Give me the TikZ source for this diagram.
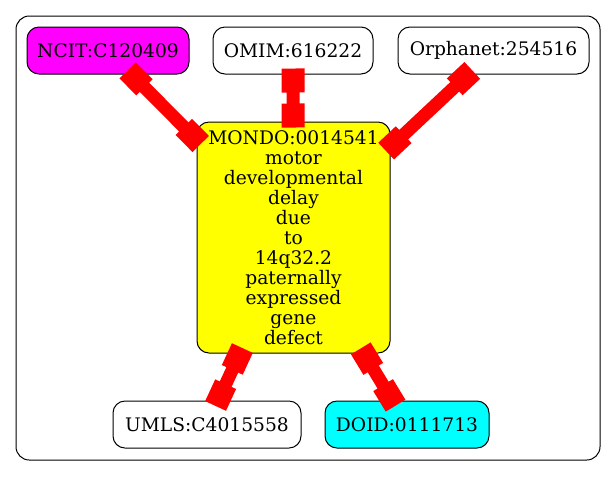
\documentclass[tikz,border=0pt]{standalone}
\usepackage{fontspec}
\setmainfont{DejaVu Serif}
\usetikzlibrary{arrows.meta}
\definecolor{ncitfill}{RGB}{255,0,255}
\definecolor{mondofill}{RGB}{255,255,0}
\definecolor{doidfill}{RGB}{0,255,255}
\definecolor{linkred}{RGB}{255,0,0}

\begin{document}
\begin{tikzpicture}[x=0.75pt, y=-0.75pt]
\tikzstyle{term} = [draw, rounded corners=9pt, line width=0.75pt, align=center,
  inner sep=2pt, minimum height=35.25pt, font=\fontsize{14}{15}\selectfont]
\tikzstyle{link} = [draw=linkred, line width=9.75pt,
  {Rectangle[length=18pt, width=17.25pt]}-{Rectangle[length=18pt, width=17.25pt]},
  shorten <=-4.5pt, shorten >=-4.5pt]

\useasboundingbox (0,0) rectangle (616,476);
\draw[rounded corners=10pt, line width=0.75pt] (16,16) rectangle (600,460);

\node[term, fill=ncitfill, minimum width=121.5pt] (ncit) at (108,50.5) {NCIT:C120409};
\node[term, minimum width=120pt] (omim) at (293,50.5) {OMIM:616222};
\node[term, minimum width=143.25pt] (orphanet) at (493.5,50.5) {Orphanet:254516};

\node[term, fill=mondofill, minimum width=144.75pt, minimum height=173.25pt] (mondo) at (293.5,237.5)
{MONDO:0014541\\ motor\\ developmental\\ delay\\ due\\ to\\ 14q32.2\\ paternally\\ expressed\\ gene\\ defect};

\node[term, minimum width=141pt] (umls) at (207,424.5) {UMLS:C4015558};
\node[term, fill=doidfill, minimum width=123pt] (doid) at (407,424.5) {DOID:0111713};

\path[link] (ncit) -- (mondo);
\path[link] (omim) -- (mondo);
\path[link] (orphanet) -- (mondo);
\path[link] (mondo) -- (umls);
\path[link] (mondo) -- (doid);

\end{tikzpicture}
\end{document}
